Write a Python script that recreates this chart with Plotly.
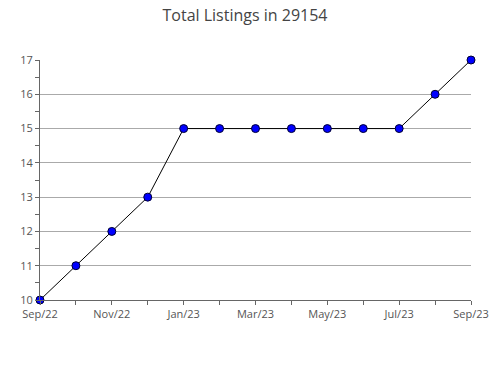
import plotly.graph_objects as go

months = ["Sep/22", "Oct/22", "Nov/22", "Dec/22", "Jan/23", "Feb/23", "Mar/23",
          "Apr/23", "May/23", "Jun/23", "Jul/23", "Aug/23", "Sep/23"]
listings = [10, 11, 12, 13, 15, 15, 15, 15, 15, 15, 15, 16, 17]
tick_labels = [m if i % 2 == 0 else "" for i, m in enumerate(months)]
y_ticks = [10, 11, 12, 13, 14, 15, 16, 17]

fig = go.Figure()
fig.add_trace(go.Scatter(
    x=list(range(len(months))), y=listings, mode="lines+markers",
    line=dict(color="black", width=1),
    marker=dict(color="#0000ff", size=8, line=dict(color="#000033", width=1)),
    cliponaxis=False, hoverinfo="skip",
))

fig.update_layout(
    width=490, height=380,
    margin=dict(l=40, r=19, t=60, b=80),
    paper_bgcolor="white", plot_bgcolor="white",
    showlegend=False,
    font=dict(family="Open Sans, DejaVu Sans, sans-serif", size=11, color="#555"),
    title=dict(text="Total Listings in 29154", x=0.5, xanchor="center",
               y=0.96, yanchor="middle",
               font=dict(size=16, color="#444")),
)
fig.update_xaxes(
    range=[0, 12], tickmode="array", tickvals=list(range(len(months))),
    ticktext=tick_labels, ticks="outside", ticklen=4, tickcolor="#666",
    showline=True, linecolor="#666", linewidth=1, showgrid=False,
    zeroline=False, tickangle=0, automargin=False,
)
fig.update_yaxes(
    range=[10, 17], tickmode="array", tickvals=y_ticks,
    ticks="outside", ticklen=4, tickcolor="#666",
    minor=dict(dtick=0.5, tick0=10, ticks="outside", ticklen=4, tickcolor="#666", showgrid=False),
    showline=True, linecolor="#666", linewidth=1,
    showgrid=True, gridcolor="#aaa", gridwidth=1, zeroline=False, automargin=False,
)
fig.write_html("out.html")
